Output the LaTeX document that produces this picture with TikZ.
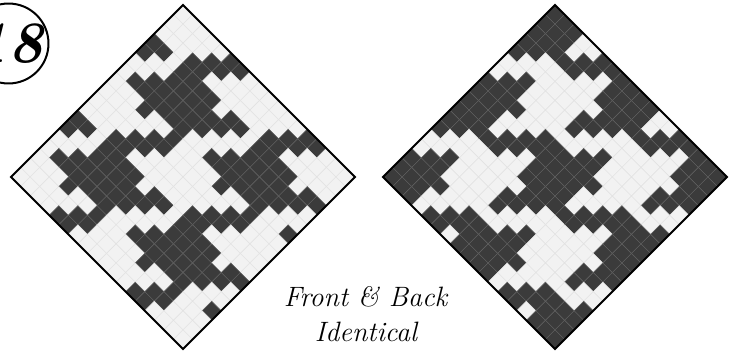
\documentclass[tikz,border=0pt]{standalone}
\definecolor{woolDark}{HTML}{3B3B3B}
\definecolor{woolLight}{HTML}{F2F2F2}
\definecolor{seamDark}{HTML}{606060}
\definecolor{seamLight}{HTML}{E2E2E2}
\begin{document}
\begin{tikzpicture}[x=0.75pt,y=-0.75pt,
 darkcell/.style={fill=woolDark,draw=seamDark,line width=0.35pt},
 lightcell/.style={fill=woolLight,draw=seamLight,line width=0.35pt},
 frame/.style={draw=black,line width=1.5pt,line join=miter},
 caption/.style={font=\fontsize{21}{25}\selectfont\itshape,inner sep=0pt}]
\useasboundingbox (0,0) rectangle (736,356);
\clip (0,0) rectangle (736,356);
\def\houndtile{{0,0,0,0,0,1,1,0, 0,0,0,0,1,1,0,0, 0,0,0,1,1,0,0,0, 1,1,0,1,1,1,1,0, 1,0,0,1,1,1,1,1, 0,0,1,1,1,1,1,1, 0,1,1,1,1,1,1,0, 0,0,0,1,0,0,1,0}}
\def\cellh{9.5556}
\foreach \a in {0,...,17}{
 \foreach \b in {0,...,17}{
  \pgfmathtruncatemacro\front{\houndtile[8*mod(\b,8)+mod(\a,8)]}
  \pgfmathtruncatemacro\back{1-\houndtile[8*mod(\a,8)+mod(\b,8)]}
  \pgfmathsetmacro\fx{183+(\a-\b)*\cellh}
  \pgfmathsetmacro\bx{555+(\a-\b)*\cellh}
  \pgfmathsetmacro\cy{5+(\a+\b)*\cellh}
  \ifnum\front=1 \def\fsty{darkcell}\else\def\fsty{lightcell}\fi
  \ifnum\back=1 \def\bsty{darkcell}\else\def\bsty{lightcell}\fi
  \draw[\fsty] (\fx,\cy) -- ++(\cellh,\cellh) -- ++(-\cellh,\cellh) -- ++(-\cellh,-\cellh) -- cycle;
  \draw[\bsty] (\bx,\cy) -- ++(\cellh,\cellh) -- ++(-\cellh,\cellh) -- ++(-\cellh,-\cellh) -- cycle;
 }
}
\draw[frame] (183,5) -- (355,177) -- (183,349) -- (11,177) -- cycle;
\draw[frame] (555,5) -- (727,177) -- (555,349) -- (383,177) -- cycle;
\node[circle,draw,line width=1.5pt,minimum size=55pt,inner sep=0pt,fill=white,
 font=\fontsize{44}{44}\selectfont\bfseries\itshape] (badge) at (8.5,43.5) {18};
\node[caption,anchor=base] (captop) at (365.5,306) {Front \& Back};
\node[caption,anchor=base] (capbot) at (366,341) {Identical};
\end{tikzpicture}
\end{document}
